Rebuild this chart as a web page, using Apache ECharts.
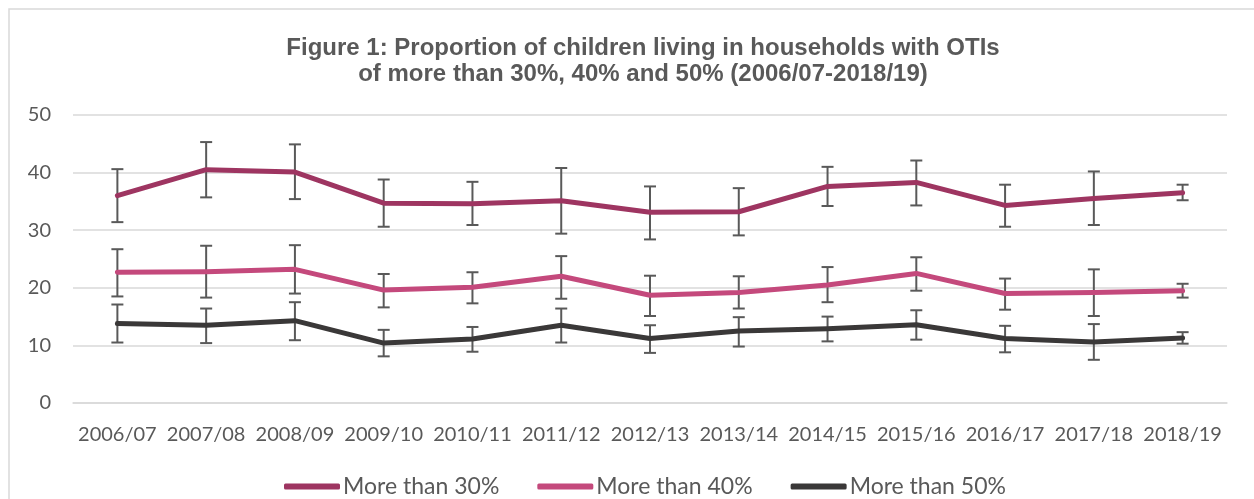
<!DOCTYPE html>
<html>
<head>
<meta charset="utf-8">
<script src="https://cdn.jsdelivr.net/npm/echarts@6/dist/echarts.min.js"></script>
<style>
  html, body { margin: 0; padding: 0; background: #ffffff; }
  #chart { width: 1254px; height: 499px; }
</style>
</head>
<body>
<div id="chart"></div>
<script>
// Survey years
const years = ['2006/07', '2007/08', '2008/09', '2009/10', '2010/11', '2011/12', '2012/13',
               '2013/14', '2014/15', '2015/16', '2016/17', '2017/18', '2018/19'];

// Share of children (%) in households with OTI above each threshold
const over30 = [36.0, 40.5, 40.1, 34.7, 34.6, 35.1, 33.1, 33.2, 37.6, 38.3, 34.3, 35.5, 36.5];
const over40 = [22.7, 22.8, 23.2, 19.6, 20.1, 22.0, 18.7, 19.2, 20.5, 22.5, 19.0, 19.2, 19.5];
const over50 = [13.8, 13.5, 14.3, 10.4, 11.1, 13.5, 11.2, 12.5, 12.9, 13.6, 11.2, 10.6, 11.3];

// Confidence interval bounds
const over30Low  = [31.4, 35.7, 35.4, 30.6, 30.9, 29.4, 28.4, 29.1, 34.2, 34.3, 30.6, 30.9, 35.2];
const over30High = [40.6, 45.3, 44.9, 38.8, 38.4, 40.8, 37.6, 37.3, 41.0, 42.1, 37.9, 40.2, 37.9];
const over40Low  = [18.5, 18.3, 19.0, 16.6, 17.3, 18.1, 15.1, 16.4, 17.5, 19.5, 16.2, 15.1, 18.3];
const over40High = [26.7, 27.3, 27.4, 22.4, 22.7, 25.5, 22.1, 22.0, 23.6, 25.3, 21.6, 23.2, 20.7];
const over50Low  = [10.5, 10.4, 10.9,  8.1,  8.9, 10.5,  8.7,  9.8, 10.7, 11.0,  8.8,  7.5, 10.3];
const over50High = [17.1, 16.4, 17.5, 12.7, 13.2, 16.4, 13.5, 14.9, 15.0, 16.1, 13.4, 13.7, 12.3];

const seriesNames = ['More than 30%', 'More than 40%', 'More than 50%'];
const seriesColors = ['#9e3561', '#c4497c', '#3a3838'];

const textGrey = '#595959';
const labelFont = 'Lato, "Open Sans", sans-serif';

function intervalData(low, high) {
  return years.map((_, i) => [i, low[i], high[i]]);
}

// Vertical error bar with flat caps at both ends
function renderErrorBar(params, api) {
  const x = api.value(0);
  const lo = api.coord([x, api.value(1)]);
  const hi = api.coord([x, api.value(2)]);
  const cap = 6;
  const style = { stroke: '#595959', lineWidth: 2 };
  return {
    type: 'group',
    children: [
      { type: 'line', shape: { x1: lo[0], y1: lo[1], x2: hi[0], y2: hi[1] }, style },
      { type: 'line', shape: { x1: hi[0] - cap, y1: hi[1], x2: hi[0] + cap, y2: hi[1] }, style },
      { type: 'line', shape: { x1: lo[0] - cap, y1: lo[1], x2: lo[0] + cap, y2: lo[1] }, style }
    ]
  };
}

function errorSeries(low, high) {
  return {
    type: 'custom',
    renderItem: renderErrorBar,
    data: intervalData(low, high),
    encode: { x: 0, y: [1, 2] },
    z: 2,
    silent: true
  };
}

function lineSeries(name, values, color) {
  return {
    name: name,
    type: 'line',
    data: values,
    symbol: 'none',
    lineStyle: { width: 5, color: color, cap: 'round', join: 'round' },
    itemStyle: { color: color },
    z: 3
  };
}

const chart = echarts.init(document.getElementById('chart'), null, { renderer: 'canvas' });

chart.setOption({
  backgroundColor: '#ffffff',
  animation: false,
  title: {
    text: 'Figure 1: Proportion of children living in households with OTIs\nof more than 30%, 40% and 50% (2006/07-2018/19)',
    left: 638,
    top: 30,
    textAlign: 'center',
    textStyle: {
      fontFamily: '"Liberation Sans", Arial, sans-serif',
      fontWeight: 'bold',
      fontSize: 24,
      lineHeight: 26,
      color: textGrey
    }
  },
  graphic: [{
    type: 'rect',
    shape: { x: 9, y: 9, width: 1400, height: 700 },
    style: { fill: 'none', stroke: '#d9d9d9', lineWidth: 1.5 },
    silent: true
  }],
  legend: {
    data: seriesNames,
    left: 284,
    top: 475,
    icon: 'roundRect',
    itemWidth: 56,
    itemHeight: 6,
    itemGap: 38,
    padding: 0,
    textStyle: { fontFamily: labelFont, fontSize: 23, color: textGrey, padding: [0, 0, 0, -2] }
  },
  grid: { left: 73, right: 27, top: 115, bottom: 96 },
  xAxis: {
    type: 'category',
    data: years,
    boundaryGap: true,
    axisLine: { show: true, lineStyle: { color: '#d9d9d9', width: 1.5 } },
    axisTick: { show: false },
    axisLabel: { color: textGrey, fontFamily: labelFont, fontSize: 20, margin: 22, interval: 0 }
  },
  yAxis: {
    type: 'value',
    min: 0,
    max: 50,
    interval: 10,
    axisLine: { show: false },
    axisTick: { show: false },
    splitLine: { lineStyle: { color: '#d9d9d9', width: 1.5 } },
    axisLabel: { color: textGrey, fontFamily: labelFont, fontSize: 20, margin: 22 }
  },
  series: [
    errorSeries(over30Low, over30High),
    errorSeries(over40Low, over40High),
    errorSeries(over50Low, over50High),
    lineSeries(seriesNames[0], over30, seriesColors[0]),
    lineSeries(seriesNames[1], over40, seriesColors[1]),
    lineSeries(seriesNames[2], over50, seriesColors[2])
  ]
});
</script>
</body>
</html>
